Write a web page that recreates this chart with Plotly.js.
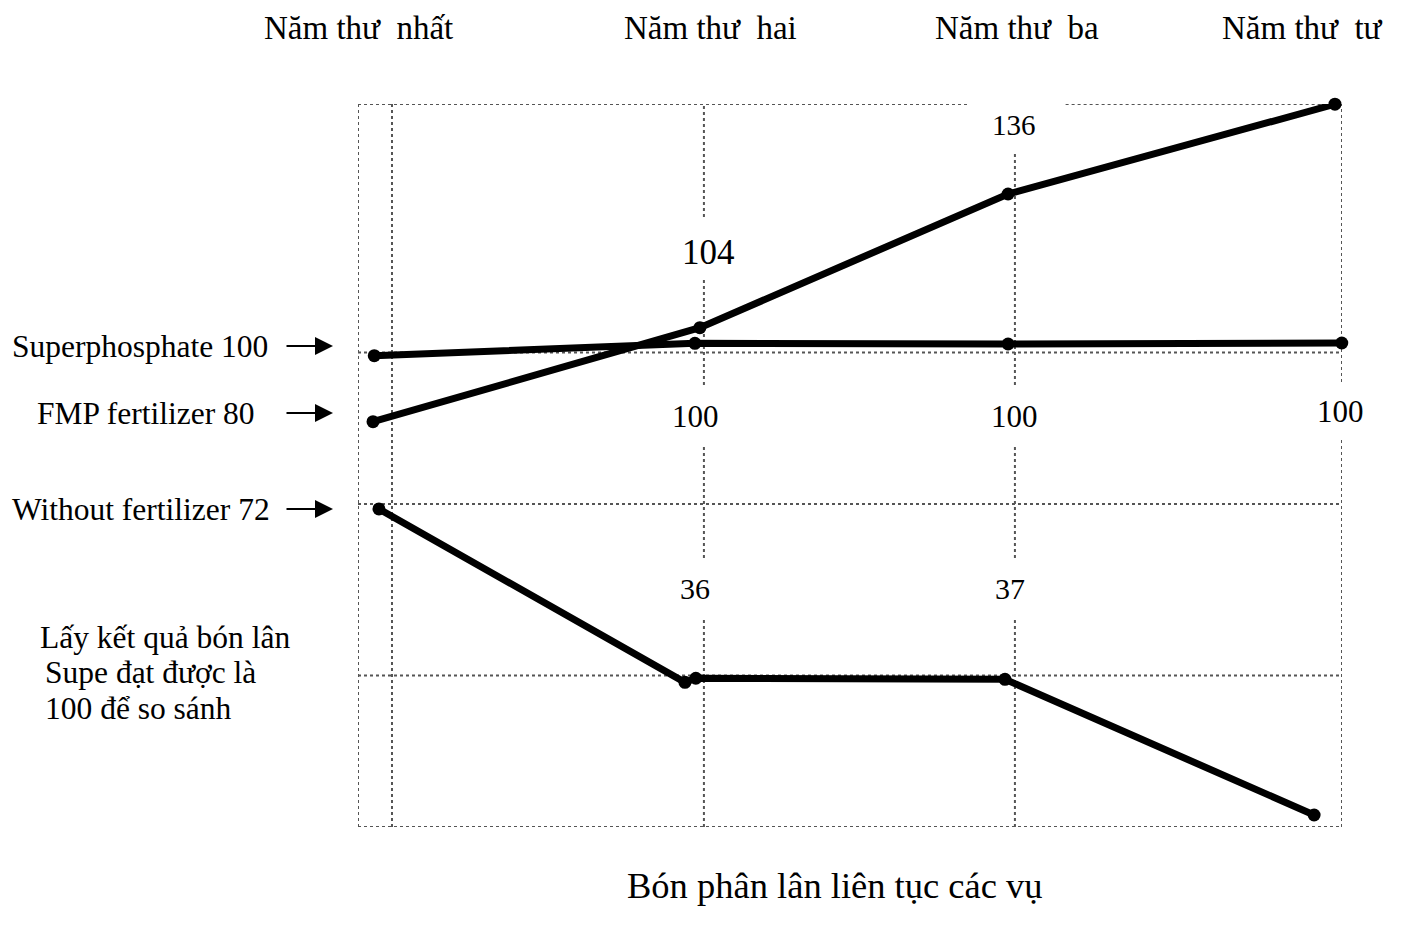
<!DOCTYPE html>
<html>
<head>
<meta charset="utf-8">
<script src="https://cdn.plot.ly/plotly-3.0.1.min.js"></script>
<style>html,body{margin:0;padding:0;background:#fff;}#chart{width:1401px;height:931px;}</style>
</head>
<body>
<div id="chart"></div>
<script>
// Schematic diagram: x in "season/year" units, y in relative schematic units
const yearLabels = ["Năm thư  nhất", "Năm thư  hai", "Năm thư  ba", "Năm thư  tư"];
const seriesNames = ["Superphosphate", "FMP fertilizer", "Without fertilizer"];

const superX = [0.943, 1.974, 2.981, 4.054];
const superY = [99.37, 101.82, 101.68, 101.88];

const fmpX = [0.939, 1.990, 2.981, 4.032];
const fmpY = [86.29, 104.91, 131.41, 149.2];

const withoutX = [0.958, 1.942, 1.977, 2.971, 3.965];
const withoutY = [69.0, 34.65, 35.45, 35.25, 8.36];

const sideLabels = ["Superphosphate 100", "FMP fertilizer 80", "Without fertilizer 72"];
const noteLines = ["Lấy kết quả bón lân", "Supe đạt được là", "100 để so sánh"];
const valueLabels = ["104", "136", "100", "100", "100", "36", "37"];
const bottomTitle = "Bón phân lân liên tục các vụ";

// axis extents (schematic units)
const X0 = 0.8907, X1 = 4.0547, Y0 = 5.98, Y1 = 149.24;

const lineStyle = {color: "#000", width: 7};
const markerStyle = {color: "#000", size: 13};
function tr(x, y, name) {
  return {x: x, y: y, name: name, type: "scatter", mode: "lines+markers",
          line: lineStyle, marker: markerStyle, cliponaxis: false, hoverinfo: "skip"};
}
const data = [
  tr(superX, superY, seriesNames[0]),
  tr(fmpX, fmpY, seriesNames[1]),
  tr(withoutX, withoutY, seriesNames[2])
];

// grid shapes (dotted, gray)
const gridStyle = {color: "#555", width: 2, dash: "dot"};
const shapes = [];
function seg(x0, y0, x1, y1) {
  shapes.push({type: "line", xref: "x", yref: "y", x0: x0, y0: y0, x1: x1, y1: y1, line: gridStyle, layer: "below"});
}
// horizontal lines
[100, 70, 36, Y0].forEach(v => seg(X0, v, X1, v));
// top frame with a gap
seg(X0, Y1, 2.85, Y1);
seg(3.166, Y1, X1, Y1);
// vertical lines
seg(X0, Y0, X0, Y1);
seg(1, Y0, 1, Y1);
[[126.83, Y1], [93.56, 114.96], [59.28, 81.67], [Y0, 47.39]].forEach(s => seg(2.003, s[0], 2.003, s[1]));
[[93.56, 139.33], [59.28, 81.67], [Y0, 47.39]].forEach(s => seg(3.003, s[0], 3.003, s[1]));
[[94.15, Y1], [Y0, 82.66]].forEach(s => seg(X1, s[0], X1, s[1]));

// paper helpers for text placement
const PX = px => (px - 358) / 984;
const PY = py => (827 - py) / 723;
const serif = "Liberation Serif, Times New Roman, serif";
const annotations = [];
function txt(text, px, py, size, anchor) {
  annotations.push({text: text, xref: "paper", yref: "paper", x: PX(px), y: PY(py),
    xanchor: anchor || "center", yanchor: "middle", showarrow: false,
    font: {family: serif, size: size, color: "#000"}});
}
// top year labels
[358, 710, 1017, 1302].forEach((px, i) => txt(yearLabels[i], px, 28, 33));
// side labels
txt(sideLabels[0], 10, 346, 31.5, "left");
txt(sideLabels[1], 35, 413, 31.5, "left");
txt(sideLabels[2], 10, 509, 31.5, "left");
// arrows
[346, 413, 509].forEach(py => annotations.push({
  text: "", xref: "paper", yref: "paper", x: PX(333), y: PY(py), ax: -48, ay: 0,
  showarrow: true, arrowhead: 2, arrowsize: 1.8, arrowwidth: 2, arrowcolor: "#000"}));
// note
txt(noteLines[0], 38, 637, 31.5, "left");
txt(noteLines[1], 43, 672, 31.5, "left");
txt(noteLines[2], 43, 708, 31.5, "left");
// value labels
txt(valueLabels[0], 708, 252, 35);
txt(valueLabels[1], 1014, 125, 29);
txt(valueLabels[2], 695, 416, 31);
txt(valueLabels[3], 1014, 416, 31);
txt(valueLabels[4], 1340, 411, 31);
txt(valueLabels[5], 695, 588, 30);
txt(valueLabels[6], 1010, 588, 30);
// bottom title
txt(bottomTitle, 835, 885, 36.5);

const layout = {
  width: 1401, height: 931,
  margin: {l: 358, r: 59, t: 104, b: 104, pad: 0},
  paper_bgcolor: "#fff", plot_bgcolor: "#fff",
  showlegend: false,
  xaxis: {range: [X0, X1], visible: false, fixedrange: true},
  yaxis: {range: [Y0, Y1], visible: false, fixedrange: true},
  shapes: shapes,
  annotations: annotations
};
Plotly.newPlot("chart", data, layout, {displayModeBar: false, staticPlot: true});
</script>
</body>
</html>
